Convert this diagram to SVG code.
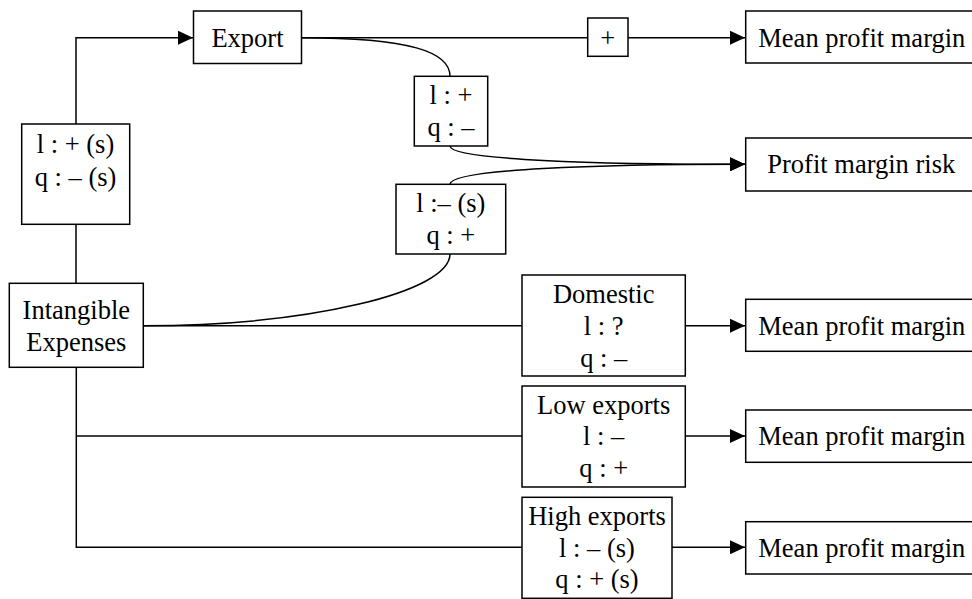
<svg xmlns="http://www.w3.org/2000/svg" width="972" height="599" viewBox="0 0 972 599">
<style>
.box{fill:#fff;stroke:#000;stroke-width:1.5}
.ln{fill:none;stroke:#000;stroke-width:1.5}
text{font-family:"Liberation Serif","Times New Roman",serif;font-size:26.5px;fill:#000}
.c{text-anchor:middle}
</style>
<defs>
<marker id="ah" markerUnits="userSpaceOnUse" markerWidth="16" markerHeight="14" refX="15" refY="7" orient="auto">
<path d="M0,0 L15,7 L0,14 z" fill="#000"/>
</marker>
</defs>
<rect width="972" height="599" fill="#fff"/>
<g id="connectors">
<path class="ln" d="M76,124 V37.7 H193" marker-end="url(#ah)"/>
<path class="ln" d="M76,224.3 V283.3"/>
<path class="ln" d="M302,37.7 H588"/>
<path class="ln" d="M628,37.7 H745" marker-end="url(#ah)"/>
<path class="ln" d="M302,37.7 C410,37.7 450,52 450,76.3"/>
<path class="ln" d="M450,146 C450,160 600,164.3 745,164.3" marker-end="url(#ah)"/>
<path class="ln" d="M450,184.3 C450,169 600,164.3 745,164.3" marker-end="url(#ah)"/>
<path class="ln" d="M143.3,325.7 C310,325.7 450,292 450,254"/>
<path class="ln" d="M143.3,325.7 H522"/>
<path class="ln" d="M685.3,325.7 H745" marker-end="url(#ah)"/>
<path class="ln" d="M76.3,367.3 V547.3 H522"/>
<path class="ln" d="M76.3,436 H522"/>
<path class="ln" d="M685.3,436 H745" marker-end="url(#ah)"/>
<path class="ln" d="M672,547.3 H745" marker-end="url(#ah)"/>
</g>
<g id="export">
<rect class="box" x="193.5" y="11" width="108" height="52.5"/>
<text class="c" x="247.5" y="47">Export</text>
</g>
<g id="label-export">
<rect class="box" x="21.7" y="124" width="108" height="100.3"/>
<text class="c" x="75.5" y="153">l : + (s)</text>
<text class="c" x="75.5" y="186">q : – (s)</text>
</g>
<g id="intangible">
<rect class="box" x="9.3" y="283.3" width="134" height="84"/>
<text class="c" x="76.3" y="319.3">Intangible</text>
<text class="c" x="76.3" y="351">Expenses</text>
</g>
<g id="plus">
<rect class="box" x="587.7" y="18" width="40.3" height="38.3"/>
<text class="c" x="607.8" y="46.7">+</text>
</g>
<g id="label-export-risk">
<rect class="box" x="414.3" y="76.3" width="73.4" height="69.7"/>
<text class="c" x="451" y="104">l : +</text>
<text class="c" x="451" y="135.5">q : –</text>
</g>
<g id="label-intangible-risk">
<rect class="box" x="396" y="184.3" width="109.7" height="69.7"/>
<text class="c" x="450.8" y="212.3">l :– (s)</text>
<text class="c" x="450.8" y="244.3">q : +</text>
</g>
<g id="mean1">
<rect class="box" x="745.7" y="11" width="240" height="52"/>
<text x="758.3" y="46.7">Mean profit margin</text>
</g>
<g id="risk">
<rect class="box" x="745.7" y="138" width="240" height="53"/>
<text x="767.3" y="173.3">Profit margin risk</text>
</g>
<g id="domestic">
<rect class="box" x="522" y="275" width="163.3" height="101"/>
<text class="c" x="603.7" y="303.3">Domestic</text>
<text class="c" x="603.7" y="335">l : ?</text>
<text class="c" x="603.7" y="367">q : –</text>
</g>
<g id="mean2">
<rect class="box" x="745.7" y="299.3" width="240" height="52"/>
<text x="758.3" y="335">Mean profit margin</text>
</g>
<g id="low">
<rect class="box" x="522" y="386" width="163.3" height="101"/>
<text class="c" x="603.7" y="414">Low exports</text>
<text class="c" x="603.7" y="445">l : –</text>
<text class="c" x="603.7" y="476.7">q : +</text>
</g>
<g id="mean3">
<rect class="box" x="745.7" y="410" width="240" height="52.3"/>
<text x="758.3" y="445">Mean profit margin</text>
</g>
<g id="high">
<rect class="box" x="522" y="497.3" width="150" height="101"/>
<text class="c" x="597" y="525">High exports</text>
<text class="c" x="597" y="556.7">l : – (s)</text>
<text class="c" x="597" y="588.3">q : + (s)</text>
</g>
<g id="mean4">
<rect class="box" x="745.7" y="521.7" width="240" height="52.3"/>
<text x="758.3" y="556.7">Mean profit margin</text>
</g>
</svg>
